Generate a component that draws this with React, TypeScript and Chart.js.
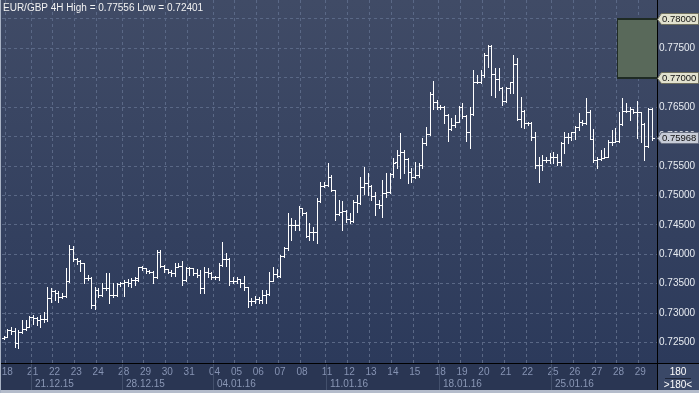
import { useEffect, useRef } from 'react';
import { Chart, registerables } from 'chart.js';

Chart.register(...registerables);

const title = 'EUR/GBP 4H High = 0.77556 Low = 0.72401';

const opens = [
  0.72581, 0.72592, 0.72711, 0.72700, 0.72484, 0.72683, 0.72722, 0.72768, 0.72927, 0.72910,
  0.72881, 0.72893, 0.72893, 0.73250, 0.73380, 0.73346, 0.73278, 0.73289, 0.73550, 0.74089,
  0.73913, 0.73885, 0.73845, 0.73590, 0.73590, 0.73136, 0.73391, 0.73306, 0.73420, 0.73420,
  0.73306, 0.73306, 0.73494, 0.73505, 0.73533, 0.73516, 0.73562, 0.73560, 0.73777, 0.73760,
  0.73720, 0.73703, 0.73618, 0.74043, 0.73799, 0.73743, 0.73703, 0.73674, 0.73788, 0.73799,
  0.73561, 0.73771, 0.73760, 0.73674, 0.73646, 0.73419, 0.73703, 0.73686, 0.73606, 0.73606,
  0.73816, 0.73913, 0.73913, 0.73550, 0.73550, 0.73572, 0.73504, 0.73436, 0.73209, 0.73209,
  0.73232, 0.73221, 0.73306, 0.73323, 0.73549, 0.73663, 0.73629, 0.73969, 0.74099, 0.74496,
  0.74496, 0.74496, 0.74780, 0.74700, 0.74309, 0.74383, 0.74383, 0.74900, 0.75160, 0.75177,
  0.75307, 0.75092, 0.74683, 0.74723, 0.74740, 0.74593, 0.74570, 0.74893, 0.74876, 0.75137,
  0.75216, 0.75160, 0.74990, 0.74853, 0.74836, 0.75046, 0.75063, 0.75364, 0.75562, 0.75687,
  0.75732, 0.75619, 0.75392, 0.75318, 0.75347, 0.75517, 0.75885, 0.76038, 0.76719, 0.76594,
  0.76509, 0.76509, 0.76367, 0.76129, 0.76197, 0.76254, 0.76509, 0.76356, 0.76072, 0.76378,
  0.76934, 0.76934, 0.77048, 0.77388, 0.77546, 0.77059, 0.76980, 0.76821, 0.76605, 0.76832,
  0.76923, 0.77229, 0.76300, 0.76441, 0.76237, 0.76237, 0.75999, 0.75517, 0.75517, 0.75602,
  0.75602, 0.75647, 0.75647, 0.75573, 0.75897, 0.75999, 0.75987, 0.76084, 0.76158, 0.76254,
  0.76237, 0.76424, 0.75953, 0.75602, 0.75613, 0.75630, 0.75658, 0.75914, 0.75914, 0.75930,
  0.76214, 0.76441, 0.76441, 0.76464, 0.76424, 0.76424, 0.76214, 0.75840, 0.76464,
];

const highs = [
  0.72609, 0.72722, 0.72768, 0.72739, 0.72711, 0.72881, 0.72881, 0.72949, 0.72966, 0.72938,
  0.72966, 0.73023, 0.73437, 0.73420, 0.73391, 0.73374, 0.73335, 0.73760, 0.74157, 0.74140,
  0.73930, 0.73902, 0.73856, 0.73647, 0.73618, 0.73437, 0.73420, 0.73505, 0.73675, 0.73686,
  0.73505, 0.73516, 0.73533, 0.73562, 0.73573, 0.73590, 0.73618, 0.73790, 0.73799, 0.73770,
  0.73731, 0.73720, 0.74071, 0.74071, 0.73810, 0.73750, 0.73731, 0.73856, 0.73856, 0.73890,
  0.73788, 0.73788, 0.73765, 0.73743, 0.73731, 0.73788, 0.73760, 0.73690, 0.73629, 0.73856,
  0.74213, 0.74026, 0.73930, 0.73606, 0.73618, 0.73580, 0.73629, 0.73448, 0.73249, 0.73289,
  0.73278, 0.73391, 0.73391, 0.73702, 0.73788, 0.73742, 0.73986, 0.74128, 0.74695, 0.74610,
  0.74581, 0.74819, 0.74790, 0.74710, 0.74525, 0.74470, 0.74950, 0.75233, 0.75233, 0.75545,
  0.75347, 0.75100, 0.74922, 0.74910, 0.74751, 0.74695, 0.74922, 0.75007, 0.75318, 0.75489,
  0.75375, 0.75177, 0.75063, 0.74922, 0.75262, 0.75375, 0.75386, 0.75630, 0.75772, 0.76055,
  0.75772, 0.75630, 0.75460, 0.75573, 0.75545, 0.75970, 0.76169, 0.76753, 0.76946, 0.76622,
  0.76537, 0.76526, 0.76378, 0.76322, 0.76367, 0.76526, 0.76566, 0.76367, 0.76509, 0.77133,
  0.77048, 0.77133, 0.77416, 0.77556, 0.77556, 0.77161, 0.77161, 0.76849, 0.76849, 0.76934,
  0.77388, 0.77331, 0.76679, 0.76452, 0.76254, 0.76254, 0.76084, 0.75658, 0.75687, 0.75658,
  0.75715, 0.75743, 0.75704, 0.75914, 0.76084, 0.76067, 0.76084, 0.76180, 0.76396, 0.76282,
  0.76651, 0.76452, 0.76124, 0.75658, 0.75772, 0.75800, 0.75942, 0.76112, 0.76141, 0.76424,
  0.76651, 0.76577, 0.76509, 0.76464, 0.76611, 0.76424, 0.76237, 0.76481, 0.76481,
];

const lows = [
  0.72564, 0.72586, 0.72643, 0.72416, 0.72401, 0.72666, 0.72711, 0.72756, 0.72813, 0.72796,
  0.72768, 0.72853, 0.72870, 0.73193, 0.73221, 0.73193, 0.73250, 0.73278, 0.73533, 0.73890,
  0.73834, 0.73720, 0.73505, 0.73562, 0.73079, 0.73063, 0.73278, 0.73289, 0.73391, 0.73176,
  0.73278, 0.73295, 0.73459, 0.73295, 0.73459, 0.73437, 0.73476, 0.73540, 0.73731, 0.73674,
  0.73674, 0.73516, 0.73600, 0.73788, 0.73703, 0.73674, 0.73629, 0.73629, 0.73780, 0.73476,
  0.73550, 0.73646, 0.73646, 0.73606, 0.73334, 0.73334, 0.73618, 0.73572, 0.73572, 0.73561,
  0.73800, 0.73799, 0.73476, 0.73504, 0.73504, 0.73448, 0.73391, 0.73107, 0.73136, 0.73175,
  0.73164, 0.73164, 0.73164, 0.73310, 0.73540, 0.73617, 0.73610, 0.73958, 0.74080, 0.74241,
  0.74411, 0.74411, 0.74666, 0.74298, 0.74241, 0.74241, 0.74184, 0.74880, 0.75137, 0.75160,
  0.75080, 0.74581, 0.74670, 0.74411, 0.74553, 0.74525, 0.74553, 0.74723, 0.74850, 0.75024,
  0.75007, 0.74922, 0.74666, 0.74780, 0.74638, 0.74978, 0.75035, 0.75318, 0.75460, 0.75290,
  0.75375, 0.75205, 0.75233, 0.75301, 0.75318, 0.75460, 0.75857, 0.76027, 0.76469, 0.76469,
  0.76469, 0.76225, 0.75925, 0.76112, 0.76169, 0.76242, 0.76310, 0.75925, 0.75811, 0.76367,
  0.76906, 0.76906, 0.77019, 0.77189, 0.76707, 0.76679, 0.76792, 0.76537, 0.76594, 0.76736,
  0.76736, 0.76282, 0.76169, 0.76141, 0.76197, 0.75942, 0.75460, 0.75233, 0.75432, 0.75573,
  0.75545, 0.75545, 0.75517, 0.75517, 0.75727, 0.75885, 0.75942, 0.75953, 0.76112, 0.76197,
  0.76220, 0.75953, 0.75573, 0.75460, 0.75602, 0.75630, 0.75658, 0.75857, 0.75914, 0.75914,
  0.76197, 0.76424, 0.76282, 0.76396, 0.75970, 0.75914, 0.75602, 0.75829, 0.75942,
];

const closes = [
  0.72592, 0.72711, 0.72700, 0.72484, 0.72683, 0.72722, 0.72768, 0.72927, 0.72910, 0.72881,
  0.72893, 0.72893, 0.73250, 0.73380, 0.73346, 0.73278, 0.73289, 0.73550, 0.74089, 0.73913,
  0.73885, 0.73845, 0.73590, 0.73590, 0.73136, 0.73391, 0.73306, 0.73420, 0.73420, 0.73306,
  0.73306, 0.73494, 0.73505, 0.73533, 0.73516, 0.73562, 0.73590, 0.73777, 0.73760, 0.73720,
  0.73703, 0.73618, 0.74043, 0.73799, 0.73743, 0.73703, 0.73674, 0.73788, 0.73799, 0.73561,
  0.73771, 0.73760, 0.73674, 0.73646, 0.73419, 0.73703, 0.73686, 0.73606, 0.73606, 0.73816,
  0.73913, 0.73913, 0.73550, 0.73550, 0.73572, 0.73504, 0.73436, 0.73209, 0.73209, 0.73232,
  0.73221, 0.73306, 0.73323, 0.73549, 0.73663, 0.73629, 0.73969, 0.74099, 0.74496, 0.74496,
  0.74496, 0.74780, 0.74700, 0.74309, 0.74383, 0.74383, 0.74900, 0.75160, 0.75177, 0.75307,
  0.75092, 0.74683, 0.74723, 0.74740, 0.74593, 0.74570, 0.74893, 0.74876, 0.75137, 0.75216,
  0.75160, 0.74990, 0.74853, 0.74836, 0.75046, 0.75063, 0.75364, 0.75556, 0.75687, 0.75732,
  0.75619, 0.75392, 0.75318, 0.75347, 0.75517, 0.75885, 0.76038, 0.76719, 0.76594, 0.76509,
  0.76509, 0.76367, 0.76129, 0.76197, 0.76254, 0.76509, 0.76356, 0.76072, 0.76378, 0.76934,
  0.76934, 0.77048, 0.77388, 0.77546, 0.77059, 0.76980, 0.76821, 0.76605, 0.76832, 0.76923,
  0.77229, 0.76300, 0.76441, 0.76237, 0.76237, 0.75999, 0.75517, 0.75517, 0.75602, 0.75602,
  0.75647, 0.75647, 0.75573, 0.75897, 0.75999, 0.75987, 0.76084, 0.76158, 0.76254, 0.76237,
  0.76424, 0.75953, 0.75602, 0.75613, 0.75630, 0.75658, 0.75914, 0.75914, 0.75930, 0.76214,
  0.76441, 0.76441, 0.76464, 0.76424, 0.76424, 0.76214, 0.75840, 0.76464, 0.75968,
];

// bar index at which each trading day starts, and its label
const dayStarts = [1, 8, 14, 20, 26, 33, 39, 45, 51, 58, 64, 70, 76, 82, 89, 95, 101, 107, 113, 120, 126, 132, 138, 144, 151, 157, 163, 169, 175];
const dayLabels = ['18', '21', '22', '23', '24', '28', '29', '30', '31', '04', '05', '06', '07', '08', '11', '12', '13', '14', '15', '18', '19', '20', '21', '22', '25', '26', '27', '28', '29'];
const weekStarts = [8, 33, 58, 89, 120, 151];
const weekLabels = ['21.12.15', '28.12.15', '04.01.16', '11.01.16', '18.01.16', '25.01.16'];

const yTicks = [0.725, 0.73, 0.735, 0.74, 0.745, 0.75, 0.755, 0.76, 0.765, 0.77, 0.775, 0.78];
const yMin = 0.7215;
const yMax = 0.78323;

const zoneHigh = 0.78;
const zoneLow = 0.77;
const zoneStart = 168.5;
const levelMarks = [0.78, 0.77];
const lastPrice = 0.75968;
const barsShown = '180';
const barsTotal = '>180<';

const FONT = '"Liberation Sans", Arial, sans-serif';
const FS = 10;

function priceTag(ctx: CanvasRenderingContext2D, yPix: number, text: string, fill: string, stroke: string) {
  const yc = Math.round(yPix) + 0.5;
  const left = 657.5;
  const right = 698.5;
  const top = yc - 6;
  const bot = yc + 5;
  ctx.beginPath();
  ctx.moveTo(left, yc);
  ctx.lineTo(left + 4, top);
  ctx.lineTo(right, top);
  ctx.lineTo(right, bot);
  ctx.lineTo(left + 4, bot);
  ctx.closePath();
  ctx.fillStyle = fill;
  ctx.fill();
  ctx.strokeStyle = stroke;
  ctx.lineWidth = 1;
  ctx.stroke();
  ctx.fillStyle = '#111111';
  ctx.font = `9.5px ${FONT}`;
  ctx.textAlign = 'left';
  ctx.textBaseline = 'middle';
  ctx.fillText(text, 662, yc);
}

const decorPlugin = {
  id: 'decor',
  beforeDraw(chart: any) {
    const { ctx, width, height, chartArea } = chart;
    ctx.save();
    const g = ctx.createLinearGradient(0, 0, 0, chartArea.bottom);
    g.addColorStop(0, '#404b66');
    g.addColorStop(1, '#2c3a5b');
    ctx.fillStyle = g;
    ctx.fillRect(0, 0, width, chartArea.bottom);
    ctx.fillStyle = '#2a3653';
    ctx.fillRect(0, chartArea.bottom, width, height - chartArea.bottom);
    ctx.restore();
  },
  beforeDatasetsDraw(chart: any) {
    const { ctx, chartArea, scales } = chart;
    const x = scales.x;
    const y = scales.y;
    const zx = Math.round(x.getPixelForValue(zoneStart));
    const zt = Math.round(y.getPixelForValue(zoneHigh));
    const zb = Math.round(y.getPixelForValue(zoneLow));
    ctx.save();
    ctx.fillStyle = '#59695a';
    ctx.fillRect(zx, zt, chartArea.right - zx, zb - zt);
    ctx.fillStyle = '#1f2b24';
    ctx.fillRect(zx, zt - 1, chartArea.right - zx, 2);
    ctx.fillRect(zx, zb - 1, chartArea.right - zx, 2);
    ctx.fillRect(zx, zt, 1, zb - zt);
    ctx.restore();
  },
  afterDatasetsDraw(chart: any) {
    const { ctx, scales } = chart;
    const xs = scales.x;
    const ys = scales.y;
    ctx.save();
    ctx.fillStyle = '#ffffff';
    for (let i = 0; i < closes.length; i++) {
      const x = Math.round(xs.getPixelForValue(i));
      const yh = Math.round(ys.getPixelForValue(highs[i]));
      const yl = Math.round(ys.getPixelForValue(lows[i]));
      const yo = Math.round(ys.getPixelForValue(opens[i]));
      const yc = Math.round(ys.getPixelForValue(closes[i]));
      ctx.fillRect(x, yh, 1, Math.max(1, yl - yh + 1));
      ctx.fillRect(x - 2, yo, 2, 1);
      ctx.fillRect(x + 1, yc, 2, 1);
    }
    ctx.restore();
  },
  afterDraw(chart: any) {
    const { ctx, width, height, chartArea, scales } = chart;
    const xs = scales.x;
    const ys = scales.y;
    ctx.save();
    // week separators and labels
    for (let i = 0; i < weekStarts.length; i++) {
      const px = Math.round(xs.getPixelForValue(weekStarts[i] - 0.5));
      ctx.fillStyle = '#43506c';
      ctx.fillRect(px, chartArea.bottom + 1, 1, 26);
      ctx.fillStyle = '#8a97b5';
      ctx.font = `${FS}px ${FONT}`;
      ctx.textAlign = 'left';
      ctx.textBaseline = 'middle';
      ctx.fillText(weekLabels[i], px + 4, chartArea.bottom + 21);
    }
    // corner box
    ctx.fillStyle = '#3a4867';
    ctx.fillRect(chartArea.right + 1, chartArea.bottom + 1, width - chartArea.right - 1, 26);
    ctx.fillStyle = '#ffffff';
    ctx.font = `${FS}px ${FONT}`;
    ctx.textAlign = 'center';
    ctx.textBaseline = 'middle';
    const cx = (chartArea.right + width) / 2;
    ctx.fillText(barsShown, cx, chartArea.bottom + 9);
    ctx.fillText(barsTotal, cx, chartArea.bottom + 22);
    ctx.fillStyle = '#1c2438';
    ctx.fillRect(cx - 13, chartArea.bottom + 15, 26, 1);
    // black frame lines
    ctx.fillStyle = '#000000';
    ctx.fillRect(0, chartArea.bottom, width, 1);
    ctx.fillRect(chartArea.right, 0, 1, height);
    // bottom light border and left edge
    ctx.fillStyle = '#b4bccb';
    ctx.fillRect(0, height - 3, width, 3);
    ctx.fillStyle = '#a8b2c4';
    ctx.fillRect(0, 0, 1, height);
    // price tags
    for (const v of levelMarks) {
      priceTag(ctx, ys.getPixelForValue(v), v.toFixed(5), '#e2e2cf', '#6f705f');
    }
    priceTag(ctx, ys.getPixelForValue(lastPrice), lastPrice.toFixed(5), '#c7ccd7', '#6b7284');
    // title
    ctx.fillStyle = '#f2f2f2';
    ctx.font = `${FS}px ${FONT}`;
    ctx.textAlign = 'left';
    ctx.textBaseline = 'middle';
    ctx.fillText(title, 3, 8);
    ctx.restore();
  },
};

export default function App() {
  const ref = useRef<HTMLCanvasElement | null>(null);
  useEffect(() => {
    document.body.style.margin = '0';
    const canvas = ref.current;
    if (!canvas) return;
    const chart = new Chart(canvas, {
      type: 'line',
      data: {
        datasets: [
          {
            label: 'EUR/GBP 4H',
            data: closes.map((c, i) => ({ x: i, y: c })),
            showLine: false,
            pointRadius: 0,
            borderColor: 'rgba(0,0,0,0)',
            backgroundColor: 'rgba(0,0,0,0)',
          },
        ],
      },
      options: {
        animation: false,
        responsive: false,
        devicePixelRatio: 1,
        layout: { padding: { left: 2, top: 0, right: 0, bottom: 0 } },
        plugins: { legend: { display: false }, tooltip: { enabled: false }, title: { display: false } },
        scales: {
          x: {
            type: 'linear',
            min: -0.5,
            max: 179.5,
            afterBuildTicks: (s: any) => {
              s.ticks = dayStarts.map((d) => ({ value: d - 0.5 }));
            },
            afterFit: (s: any) => {
              s.height = 30;
              s.paddingLeft = 0;
              s.paddingRight = 0;
            },
            grid: { color: '#5a6886', drawTicks: false, lineWidth: 1 },
            border: { display: false, dash: [3, 3] },
            ticks: {
              autoSkip: false,
              maxRotation: 0,
              minRotation: 0,
              align: 'start',
              labelOffset: -4,
              padding: 3,
              color: '#8693b3',
              font: { family: FONT, size: FS },
              callback: (_v: any, i: number) => dayLabels[i],
            },
          },
          y: {
            type: 'linear',
            position: 'right',
            min: yMin,
            max: yMax,
            afterBuildTicks: (s: any) => {
              s.ticks = yTicks.map((v) => ({ value: v }));
            },
            afterFit: (s: any) => {
              s.width = 42;
              s.paddingTop = 0;
              s.paddingBottom = 0;
            },
            grid: { color: '#5a6886', drawTicks: false, lineWidth: 1 },
            border: { display: false, dash: [3, 3] },
            ticks: {
              padding: 2,
              color: '#e8ecf2',
              font: { family: FONT, size: FS },
              callback: (v: any) => Number(v).toFixed(5),
            },
          },
        },
      } as any,
      plugins: [decorPlugin],
    });
    return () => chart.destroy();
  }, []);
  return <canvas ref={ref} width={699} height={393} style={{ display: 'block' }} />;
}
